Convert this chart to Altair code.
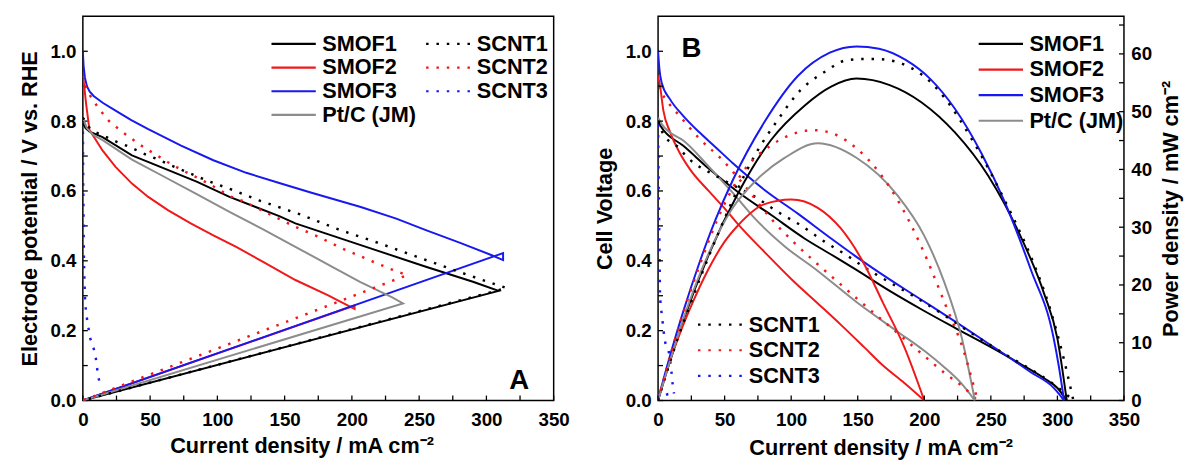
import altair as alt
import pandas as pd

# ---------------- data (current density j in mA cm-2, potential V) ----------------
# Panel A : half-cell polarization, each curve followed by its return segment
A_SMOF1 = [(0, 0.795), (2, 0.78), (5, 0.77), (14.6, 0.754), (36.5, 0.702), (60.8, 0.664), (85, 0.626),
           (109, 0.583), (146, 0.528), (158, 0.507), (206.6, 0.445), (255, 0.383), (290, 0.34), (309, 0.314), (0, 0)]
A_SMOF2 = [(0, 0.935), (1, 0.9), (2.4, 0.85), (4.9, 0.775), (14.6, 0.716), (24.3, 0.669), (36.5, 0.621),
           (48.6, 0.583), (63.2, 0.545), (80.2, 0.507), (97, 0.473), (114, 0.44), (134, 0.397), (158, 0.345),
           (182, 0.302), (199, 0.268), (202, 0.262), (202, 0.272), (0, 0)]
A_SMOF3 = [(0, 1.0), (0.5, 0.96), (1.5, 0.925), (3, 0.9), (5, 0.885), (8, 0.872), (15, 0.852), (24.3, 0.83),
           (36, 0.803), (48.6, 0.777), (73, 0.73), (97, 0.688), (121.5, 0.652), (146, 0.623), (170, 0.595),
           (206.6, 0.554), (233, 0.521), (255, 0.488), (280, 0.452), (304, 0.416), (312.4, 0.402),
           (312.4, 0.422), (0, 0)]
A_PTC = [(0, 0.81), (3, 0.78), (8, 0.76), (15, 0.745), (36.5, 0.69), (60.8, 0.64), (85, 0.59), (109, 0.54),
         (134, 0.49), (158, 0.44), (182, 0.39), (206, 0.34), (230, 0.295), (238, 0.278), (0, 0)]
A_SCNT1 = [(0, 0.81), (4.4, 0.783), (8.5, 0.77), (17, 0.755), (25.5, 0.74), (35, 0.726), (45, 0.707),
           (54.7, 0.692), (73, 0.661), (92, 0.63), (112, 0.602), (131, 0.573), (160, 0.535), (190, 0.49),
           (219, 0.452), (248, 0.412), (277, 0.372), (297, 0.345), (315, 0.322), (0, 0)]
A_SCNT2 = [(0, 0.93), (2, 0.9), (6, 0.869), (12, 0.835), (19.5, 0.8), (28, 0.773), (36.5, 0.749), (45, 0.726),
           (63, 0.683), (73, 0.661), (83, 0.642), (91, 0.626), (100, 0.607), (109, 0.585), (119, 0.571),
           (138.5, 0.534), (157, 0.499), (175, 0.469), (193, 0.435), (213, 0.402), (231, 0.373), (241, 0.359), (0, 0)]
A_SCNT3 = [(0, 0.8), (0.3, 0.6), (0.8, 0.4), (1.5, 0.3), (2.4, 0.25), (5.3, 0.18), (9.2, 0.135), (10.4, 0.097),
           (12.2, 0.054)]

# Panel B : single-cell polarization (power density = j x V)
B_SMOF1 = [(0, 0.8), (2, 0.785), (5, 0.77), (18.7, 0.73), (38, 0.664), (60, 0.597), (85, 0.531), (110, 0.464),
           (130, 0.418), (149, 0.374), (174, 0.3138), (198, 0.2606), (223, 0.2081), (248, 0.1569), (272, 0.1051),
           (290, 0.0638), (300, 0.0357), (307, 0.0)]
B_SMOF2 = [(0, 0.93), (1.5, 0.9), (4, 0.83), (8.9, 0.77), (16, 0.711), (24, 0.662), (38, 0.6), (50, 0.55),
           (60, 0.505), (80, 0.425), (100, 0.348), (120, 0.278), (137, 0.218), (155, 0.152), (169, 0.1),
           (185, 0.05), (200, 0.0)]
B_SMOF3 = [(0, 1.0), (1, 0.95), (2.7, 0.91), (8.9, 0.863), (18.7, 0.816), (31, 0.768), (43, 0.726), (56, 0.68),
           (80, 0.603), (105, 0.535), (129, 0.4667), (149, 0.4114), (166, 0.3669), (186, 0.317), (205, 0.271),
           (223, 0.2265), (243, 0.176), (260, 0.133), (280, 0.081), (297, 0.037), (301, 0.02), (305, 0.0)]
B_PTC = [(0, 0.81), (3, 0.79), (8, 0.77), (18.7, 0.745), (38, 0.67), (56, 0.595), (73, 0.52), (95, 0.442),
         (120, 0.371), (149, 0.282), (180, 0.197), (200, 0.1425), (215, 0.0953), (228, 0.0482), (238, 0.0)]
B_SCNT1 = [(0, 0.8), (3, 0.77), (6.4, 0.75), (15, 0.726), (21, 0.7), (45, 0.64), (73, 0.583), (90, 0.54),
           (107, 0.502), (125, 0.455), (142, 0.415), (156, 0.379), (166, 0.356), (198, 0.285), (215, 0.244),
           (235, 0.1936), (265, 0.1226), (279, 0.0914), (295, 0.0525), (305, 0.023), (312, 0.0)]
B_SCNT2 = [(0, 0.93), (2, 0.89), (6.4, 0.86), (16, 0.816), (31, 0.75), (48, 0.69), (65, 0.615), (85, 0.52),
           (102, 0.453), (117, 0.4), (134, 0.343), (149, 0.293), (166, 0.238), (181, 0.1895), (198, 0.134),
           (216, 0.0764), (230, 0.036), (240, 0.0)]
B_SCNT3 = [(0, 0.79), (0.5, 0.6), (1, 0.45), (1.5, 0.3), (3, 0.24), (5.2, 0.17), (8, 0.14), (10, 0.085),
           (11, 0.045), (12, 0.02)]

SOLID_NAMES = ["SMOF1", "SMOF2", "SMOF3", "Pt/C (JM)"]
DOT_NAMES = ["SCNT1", "SCNT2", "SCNT3"]
SOLID_COLORS = ["#000000", "#f01818", "#1818f0", "#8c8c8c"]
DOT_COLORS = ["#000000", "#f01818", "#1818f0"]

X_LABELS = [0, 50, 100, 150, 200, 250, 300, 350]
X_TICKS = [0, 25, 50, 75, 100, 125, 150, 175, 200, 225, 250, 275, 300, 325, 350]
V_LABELS = [0.0, 0.2, 0.4, 0.6, 0.8, 1.0]
V_TICKS = [0.0, 0.1, 0.2, 0.3, 0.4, 0.5, 0.6, 0.7, 0.8, 0.9, 1.0]
P_LABELS = [0, 10, 20, 30, 40, 50, 60]
P_TICKS = [0, 5, 10, 15, 20, 25, 30, 35, 40, 45, 50, 55, 60, 65]
PANEL_LABELS = ["A", "B"]
X_TITLE = "Current density / mA cm⁻²"


def to_df(series_dict):
    rows = []
    for name, pts in series_dict.items():
        for i, (j, v) in enumerate(pts):
            rows.append({"series": name, "i": i, "j": j, "V": v})
    return pd.DataFrame(rows)


dfA_solid = to_df({"SMOF1": A_SMOF1, "SMOF2": A_SMOF2, "SMOF3": A_SMOF3, "Pt/C (JM)": A_PTC})
dfA_dot = to_df({"SCNT1": A_SCNT1, "SCNT2": A_SCNT2, "SCNT3": A_SCNT3})
dfB_solid = to_df({"SMOF1": B_SMOF1, "SMOF2": B_SMOF2, "SMOF3": B_SMOF3, "Pt/C (JM)": B_PTC})
dfB_dot = to_df({"SCNT1": B_SCNT1, "SCNT2": B_SCNT2, "SCNT3": B_SCNT3})

# ---------------- style ----------------
FONT = "Liberation Sans"
WA, WB, H = 478, 473, 390
TICK = 5
DASH = [2.5, 8]
LINE_SYMBOL = "M-3,0L3,0"   # 45 px long line symbol with symbolSize 225

x_scale = alt.Scale(domain=[0, 350], nice=False, zero=False, padding=0)
v_scale = alt.Scale(domain=[0, 1.1], nice=False, padding=0)
p_scale = alt.Scale(domain=[0, 66.5], nice=False, padding=0)

axis_common = dict(grid=False, ticks=False, domain=False, labelFlush=False, labelFont=FONT, labelFontSize=19,
                   labelFontWeight="bold", labelColor="black", titleFont=FONT, titleFontSize=22,
                   titleFontWeight="bold", titleColor="black")

xA_axis = alt.Axis(values=X_LABELS, title=X_TITLE, titlePadding=7, labelPadding=10, titleX=222, **axis_common)
xB_axis = alt.Axis(values=X_LABELS, title=X_TITLE, titlePadding=9, labelPadding=10, titleX=226, **axis_common)
yA_axis = alt.Axis(values=V_LABELS, format=".1f", title="Electrode potential / V vs. RHE", titlePadding=9,
                   labelPadding=7, **axis_common)
yB_axis = alt.Axis(values=V_LABELS, format=".1f", title="Cell Voltage", titlePadding=9, labelPadding=7,
                   **axis_common)
p_axis = alt.Axis(values=P_LABELS, orient="right", title="Power density / mW cm⁻²", titleAngle=270,
                  titleBaseline="top", titlePadding=9, labelPadding=7, **axis_common)


def legend(x, y, dash=None, row_pad=2):
    kw = dict(title=None, orient="none", legendX=x, legendY=y, direction="vertical", symbolType=LINE_SYMBOL,
              symbolSize=225, symbolStrokeWidth=2.2, labelFont=FONT, labelFontSize=22,
              labelFontWeight="bold", labelColor="black", rowPadding=row_pad, labelOffset=18)
    if dash is not None:
        kw["symbolDash"] = dash
    return alt.Legend(**kw)


def X(field, axis):
    return alt.X(field, scale=x_scale, axis=axis, title=X_TITLE)


def tick_layers(width, x_axis, y_axis_left, right=False):
    xt = alt.Chart(pd.DataFrame({"xt": X_TICKS})).mark_rule(color="black", strokeWidth=1.3).encode(
        x=X("xt:Q", x_axis), y=alt.value(H), y2=alt.value(H - TICK))
    yt = alt.Chart(pd.DataFrame({"yt": V_TICKS})).mark_rule(color="black", strokeWidth=1.3).encode(
        y=alt.Y("yt:Q", scale=v_scale, axis=y_axis_left), x=alt.value(0), x2=alt.value(TICK))
    layers = [xt, yt]
    if right:
        pt = alt.Chart(pd.DataFrame({"pt": P_TICKS})).mark_rule(color="black", strokeWidth=1.3).encode(
            y=alt.Y("pt:Q", scale=p_scale, axis=None), x=alt.value(width - TICK), x2=alt.value(width))
        layers.append(pt)
    return layers


# ---------------- panel A ----------------
a_solid = alt.Chart(dfA_solid).mark_line(strokeWidth=2, clip=True).encode(
    x=X("j:Q", xA_axis),
    y=alt.Y("V:Q", scale=v_scale, axis=yA_axis),
    color=alt.Color("series:N", scale=alt.Scale(domain=SOLID_NAMES, range=SOLID_COLORS),
                    legend=legend(203, 17)),
    order="i:Q")
a_dot = alt.Chart(dfA_dot).mark_line(strokeWidth=2.5, strokeDash=DASH, clip=True).encode(
    x=X("j:Q", xA_axis),
    y=alt.Y("V:Q", scale=v_scale, axis=yA_axis),
    color=alt.Color("series:N", scale=alt.Scale(domain=DOT_NAMES, range=DOT_COLORS),
                    legend=legend(360, 17, dash=DASH)),
    order="i:Q")
a_label = alt.Chart(pd.DataFrame({"lab": [PANEL_LABELS[0]]})).mark_text(
    font=FONT, fontSize=28, fontWeight="bold", color="black").encode(
    text="lab:N", x=alt.value(443), y=alt.value(370))

panel_a = alt.layer(*tick_layers(WA, xA_axis, yA_axis), a_solid, a_dot, a_label).resolve_scale(
    color="independent").properties(width=WA, height=H)

# ---------------- panel B ----------------
b_v_solid = alt.Chart(dfB_solid).mark_line(strokeWidth=2, interpolate="monotone", clip=True).encode(
    x=X("j:Q", xB_axis),
    y=alt.Y("V:Q", scale=v_scale, axis=yB_axis),
    color=alt.Color("series:N", scale=alt.Scale(domain=SOLID_NAMES, range=SOLID_COLORS),
                    legend=legend(337, 17, row_pad=4)),
    order="i:Q")
b_v_dot = alt.Chart(dfB_dot).mark_line(strokeWidth=2.5, strokeDash=DASH, interpolate="monotone",
                                       clip=True).encode(
    x=X("j:Q", xB_axis),
    y=alt.Y("V:Q", scale=v_scale, axis=None),
    color=alt.Color("series:N", scale=alt.Scale(domain=DOT_NAMES, range=DOT_COLORS),
                    legend=legend(52, 302, dash=DASH, row_pad=4)),
    order="i:Q")
b_p_solid = alt.Chart(dfB_solid).transform_calculate(P="datum.j * datum.V").mark_line(
    strokeWidth=2, interpolate="monotone", clip=True).encode(
    x=X("j:Q", xB_axis),
    y=alt.Y("P:Q", scale=p_scale, axis=p_axis),
    color=alt.Color("series:N", scale=alt.Scale(domain=SOLID_NAMES, range=SOLID_COLORS), legend=None),
    order="i:Q")
b_p_dot = alt.Chart(dfB_dot).transform_calculate(P="datum.j * datum.V").mark_line(
    strokeWidth=2.5, strokeDash=DASH, interpolate="monotone", clip=True).encode(
    x=X("j:Q", xB_axis),
    y=alt.Y("P:Q", scale=p_scale, axis=None),
    color=alt.Color("series:N", scale=alt.Scale(domain=DOT_NAMES, range=DOT_COLORS), legend=None),
    order="i:Q")
b_label = alt.Chart(pd.DataFrame({"lab": [PANEL_LABELS[1]]})).mark_text(
    font=FONT, fontSize=28, fontWeight="bold", color="black").encode(
    text="lab:N", x=alt.value(34), y=alt.value(33))

bt = tick_layers(WB, xB_axis, None, right=True)
panel_b = alt.layer(b_v_solid, b_v_dot, b_p_solid, b_p_dot, *bt, b_label).resolve_scale(
    y="independent", color="independent").properties(width=WB, height=H)

chart = alt.hconcat(panel_a, panel_b, spacing=22).configure_view(
    stroke="black", strokeWidth=1.5).properties(
    padding={"left": 9, "top": 4, "right": 5, "bottom": 2}, background="white")

chart.save("out.html", embed_options={"renderer": "svg", "actions": False})
